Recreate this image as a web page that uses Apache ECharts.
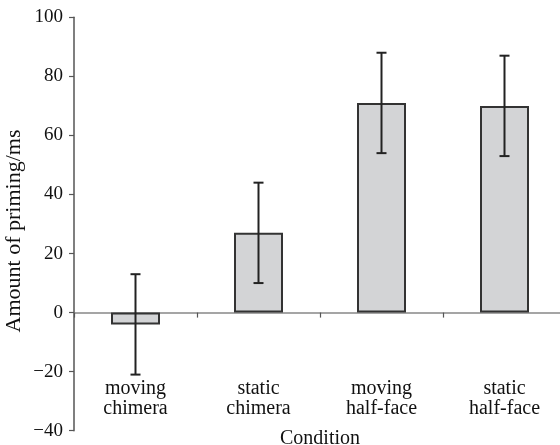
<!DOCTYPE html>
<html>
<head>
<meta charset="utf-8">
<script src="https://cdn.jsdelivr.net/npm/echarts@6/dist/echarts.min.js"></script>
<style>html,body{margin:0;padding:0;background:#fff;}#c{width:560px;height:445px;}</style>
</head>
<body>
<div id="c"></div>
<script>
var categories = ['moving\nchimera', 'static\nchimera', 'moving\nhalf-face', 'static\nhalf-face'];
var means = [-4, 27, 71, 70];
var upper = [13, 44, 88, 87];
var lower = [-21, 10, 54, 53];
var yTicks = { min: -40, max: 100, interval: 20 };

var FONT = 'Liberation Serif';
var chart = echarts.init(document.getElementById('c'), null, { renderer: 'canvas' });
var errData = categories.map(function (c, i) { return [i, lower[i], upper[i]]; });

chart.setOption({
  animation: false,
  backgroundColor: '#fff',
  grid: { left: 74, right: -6, top: 17.3, bottom: 14.3, containLabel: false, outerBoundsMode: 'none' },
  xAxis: {
    type: 'category',
    data: categories,
    boundaryGap: true,
    name: 'Condition',
    nameLocation: 'middle',
    nameGap: -2,
    nameMoveOverlap: false,
    nameTextStyle: { fontFamily: FONT, fontSize: 20, color: '#111' },
    axisLine: { onZero: true, lineStyle: { color: '#888', width: 1.5 } },
    axisTick: { show: true, length: 5, lineStyle: { color: '#555', width: 1.2 } },
    axisLabel: { margin: -52, fontFamily: FONT, fontSize: 20, color: '#111', lineHeight: 20 },
    splitLine: { show: false }
  },
  yAxis: {
    type: 'value',
    min: yTicks.min, max: yTicks.max, interval: yTicks.interval,
    name: 'Amount of priming/ms',
    nameLocation: 'middle',
    nameGap: 49,
    nameMoveOverlap: false,
    nameTextStyle: { fontFamily: FONT, fontSize: 22, color: '#111', padding: [0, 14, 0, 0] },
    axisLine: { show: true, lineStyle: { color: '#555', width: 1.5 } },
    axisTick: { show: true, length: 5, lineStyle: { color: '#555', width: 1.2 } },
    axisLabel: {
      margin: 11, fontFamily: FONT, fontSize: 19, color: '#111',
      formatter: function (v) { return v < 0 ? '\u2212' + Math.abs(v) : String(v); }
    },
    splitLine: { show: false }
  },
  series: [
    {
      type: 'bar',
      data: means,
      barWidth: 49,
      itemStyle: { color: '#d3d4d6', borderColor: '#333', borderWidth: 2 }
    },
    {
      type: 'custom',
      data: errData,
      z: 10,
      renderItem: function (params, api) {
        var x = api.value(0);
        var lo = api.coord([x, api.value(1)]);
        var hi = api.coord([x, api.value(2)]);
        var cap = 5;
        var st = { stroke: '#222', lineWidth: 2 };
        return {
          type: 'group',
          children: [
            { type: 'line', shape: { x1: lo[0], y1: lo[1], x2: hi[0], y2: hi[1] }, style: st },
            { type: 'line', shape: { x1: lo[0] - cap, y1: lo[1], x2: lo[0] + cap, y2: lo[1] }, style: st },
            { type: 'line', shape: { x1: hi[0] - cap, y1: hi[1], x2: hi[0] + cap, y2: hi[1] }, style: st }
          ]
        };
      }
    }
  ]
});
</script>
</body>
</html>
